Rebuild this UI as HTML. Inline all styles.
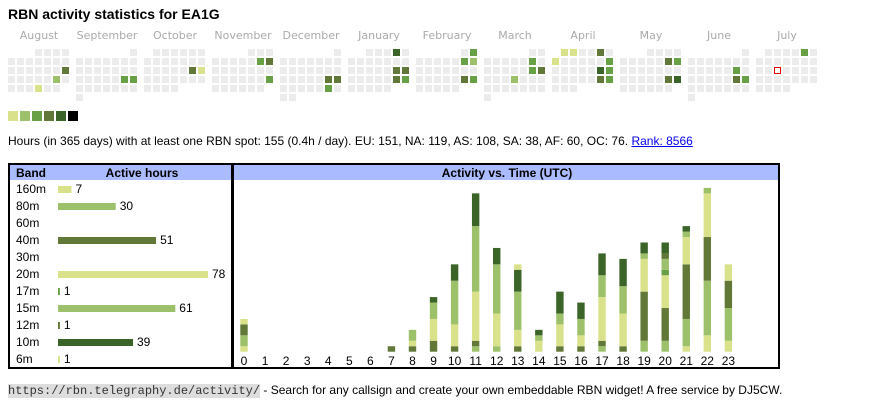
<!DOCTYPE html>
<html><head><meta charset="utf-8"><style>
body{margin:0;width:870px;height:407px;background:#fff;font-family:"Liberation Sans",Arial,sans-serif;position:relative;overflow:hidden}
.a{position:absolute}
</style></head><body>
<div class="a" style="left:8px;top:6px;font-size:14px;font-weight:bold">RBN activity statistics for EA1G</div>
<svg class="a" id="cal" style="left:0;top:25px" width="870" height="100"></svg>
<div class="a" style="left:8px;top:134px;font-size:12px">Hours (in 365 days) with at least one RBN spot: 155 (0.4h / day). EU: 151, NA: 119, AS: 108, SA: 38, AF: 60, OC: 76. <a href="#" style="color:#00e">Rank: 8566</a></div>
<div class="a" style="left:8px;top:163px;width:221px;height:202px;border:2px solid #000"></div>
<div class="a" style="left:232px;top:163px;width:544px;height:202px;border:2px solid #000"></div>
<svg class="a" id="ch" style="left:0;top:0" width="870" height="407"></svg>
<div class="a" style="left:8px;top:383px;font-size:12px"><a href="#" style="font-family:'Liberation Mono',monospace;font-size:12px;background:#ddd;color:#333;text-decoration:none">https://rbn.telegraphy.de/activity/</a> - Search for any callsign and create your own embeddable RBN widget! A free service by DJ5CW.</div>
<script>
const C={Y:'#d9e18a',LG:'#9dc16a',MG:'#68a046',OG:'#627838',DG:'#3b6428',K:'#000'};
const months=['August','September','October','November','December','January','February','March','April','May','June','July'];
const monthYears=[[2024,7],[2024,8],[2024,9],[2024,10],[2024,11],[2025,0],[2025,1],[2025,2],[2025,3],[2025,4],[2025,5],[2025,6]];
const activeDays=[[0,2,6,'OG'],[0,3,5,'LG'],[0,4,3,'Y'],[1,3,5,'MG'],[1,3,6,'MG'],[2,2,5,'OG'],[2,2,6,'Y'],[3,1,5,'MG'],[3,1,6,'OG'],[3,3,6,'MG'],[4,3,5,'OG'],[4,3,6,'OG'],[4,4,5,'MG'],[5,0,5,'DG'],[5,2,5,'OG'],[5,2,6,'OG'],[5,3,5,'OG'],[5,3,6,'MG'],[6,0,6,'MG'],[6,1,5,'MG'],[6,1,6,'LG'],[6,3,5,'OG'],[6,3,6,'MG'],[7,1,5,'MG'],[7,2,5,'MG'],[7,2,6,'OG'],[7,3,3,'LG'],[8,0,1,'Y'],[8,0,2,'Y'],[8,0,5,'OG'],[8,1,0,'Y'],[8,1,6,'MG'],[8,2,5,'DG'],[8,2,6,'MG'],[8,3,5,'OG'],[8,3,6,'MG'],[9,1,5,'OG'],[9,1,6,'MG'],[9,3,5,'OG'],[9,3,6,'DG'],[10,2,5,'MG'],[10,3,5,'OG'],[10,3,6,'MG'],[11,0,5,'MG']];
const bands=['160m','80m','60m','40m','30m','20m','17m','15m','12m','10m','6m'];
const bandHours=[7,30,0,51,0,78,1,61,1,39,1];
const bandColors=['Y','LG','Y','OG','Y','Y','MG','LG','OG','DG','Y'];
const hours=['0','1','2','3','4','5','6','7','8','9','10','11','12','13','14','15','16','17','18','19','20','21','22','23'];
const hourSegments=[[['Y',1],['LG',2],['OG',2],['Y',1]],[],[],[],[],[],[],[['OG',1]],[['OG',1],['Y',1],['LG',2]],[['OG',2],['Y',4],['LG',3],['DG',1]],[['OG',1],['Y',4],['LG',8],['DG',3]],[['LG',1],['OG',1],['Y',9],['LG',12],['DG',6]],[['LG',1],['Y',6],['LG',9],['DG',3]],[['OG',1],['Y',3],['LG',7],['DG',4],['Y',1]],[['Y',2],['LG',1],['DG',1]],[['OG',1],['Y',4],['LG',2],['DG',4]],[['OG',1],['Y',2],['LG',3],['DG',3]],[['LG',1],['OG',1],['Y',8],['LG',4],['DG',4]],[['OG',1],['Y',6],['LG',5],['DG',5]],[['LG',2],['OG',9],['Y',6],['LG',1],['DG',2]],[['LG',2],['OG',6],['Y',6],['MG',1],['LG',2],['OG',1],['DG',2]],[['Y',1],['LG',5],['OG',10],['Y',5],['LG',1],['DG',1]],[['Y',3],['LG',10],['OG',8],['Y',8],['LG',1]],[['Y',2],['LG',6],['OG',5],['Y',3]]];
const NS='http://www.w3.org/2000/svg';
function mk(p,t,a){const e=document.createElementNS(NS,t);for(const k in a)e.setAttribute(k,a[k]);p.appendChild(e);return e;}
const cal=document.getElementById('cal');
const colored={};activeDays.forEach(d=>colored[d[0]+'_'+d[1]+'_'+d[2]]=d[3]);
months.forEach((m,i)=>{
  const x0=8+i*68;
  const t=mk(cal,'text',{x:x0+31,y:14,'text-anchor':'middle','font-size':'11','fill':'#aaa','font-family':'DejaVu Sans, sans-serif'});
  t.textContent=m;
  
  
  const [y,mo]=monthYears[i];
  const first=(new Date(Date.UTC(y,mo,1)).getUTCDay()+6)%7;
  const nd=new Date(Date.UTC(y,mo+1,0)).getUTCDate();
  for(let d=0;d<nd;d++){
    const p=first+d,r=Math.floor(p/7),c=p%7;
    const key=i+'_'+r+'_'+c;
    const isToday=(i===11&&r===2&&c===2);
    const rc=mk(cal,'rect',isToday?{x:x0+c*9+0.5,y:24+r*9+0.5,width:6,height:6,fill:'#fff',stroke:'#e00','stroke-width':1}:{x:x0+c*9,y:24+r*9,width:7,height:7,fill:colored[key]?C[colored[key]]:'#ececec'});
    
    
  }
});
['Y','LG','MG','OG','DG','K'].forEach((k,i)=>{
  const r=mk(cal,'rect',{x:8+i*12,y:86,width:10,height:10,fill:C[k]});
  
  
});
const ch=document.getElementById('ch');
mk(ch,'rect',{x:10,y:165,width:221,height:15,fill:'#aabbff'});
mk(ch,'rect',{x:234,y:165,width:544,height:15,fill:'#aabbff'});
function txt(x,y,s,o){const t=mk(ch,'text',Object.assign({x:x,y:y,'font-size':'12','font-family':'Liberation Sans, sans-serif'},o||{}));t.textContent=s;return t;}
let h=txt(16,177,'Band',{'font-weight':'bold'});
h=txt(142,177,'Active hours',{'font-weight':'bold','text-anchor':'middle'});
h=txt(507,177,'Activity vs. Time (UTC)',{'font-weight':'bold','text-anchor':'middle'});
const bx=v=>v*1.923;
bands.forEach((b,i)=>{
  const y=189+i*17;
  const l=txt(16,y+4,b);
  
  
  if(bandHours[i]>0){
    const w=Math.max(1,bx(bandHours[i]));
    const r=mk(ch,'rect',{x:58,y:y-3,width:w,height:7,fill:C[bandColors[i]]});
    
    
    const v=txt(58+w+4,y+4,String(bandHours[i]));
    
    
  }
});
const unit=5.46,base=351.7,xh=i=>240.3+i*21.06;
hours.forEach((hr,i)=>{
  let y=base;
  hourSegments[i].forEach(s=>{
    const hh=s[1]*unit;y-=hh;
    const r=mk(ch,'rect',{x:xh(i),y:y,width:7.4,height:hh,fill:C[s[0]]});
    
    
  });
  const t=txt(xh(i)+3.7,365,hr,{'text-anchor':'middle'});
  
  
});
</script>
</body></html>
